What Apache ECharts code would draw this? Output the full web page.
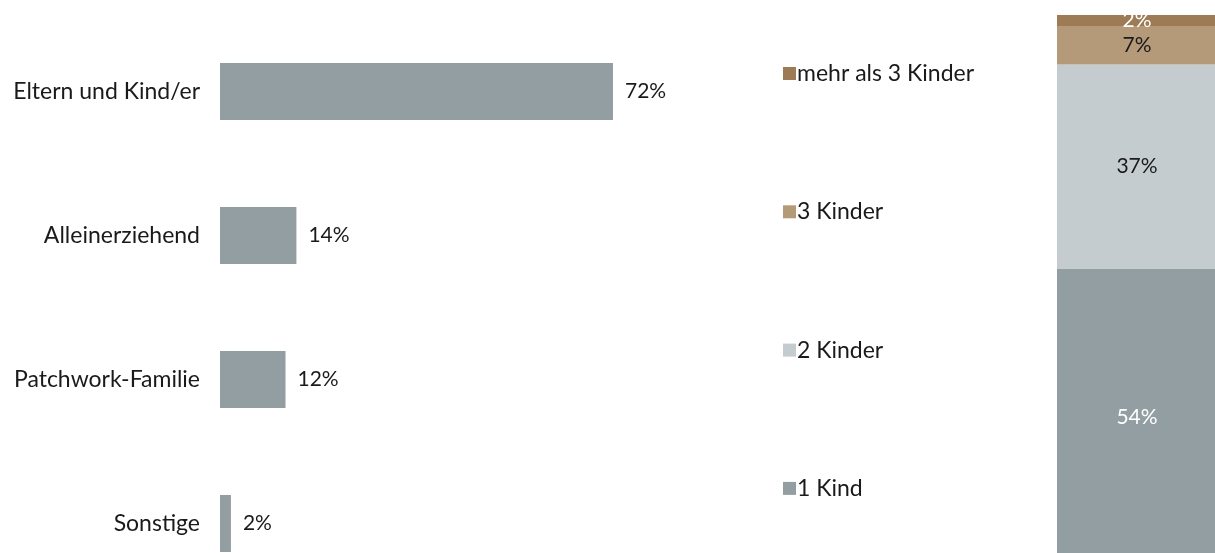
<!DOCTYPE html>
<html><head><meta charset="utf-8">
<script src="https://cdn.jsdelivr.net/npm/echarts@6/dist/echarts.min.js"></script>
<style>html,body{margin:0;padding:0;background:#fff}#c{width:1215px;height:553px}</style>
</head><body><div id="c"></div>
<script>
const familyCategories = ['Eltern und Kind/er','Alleinerziehend','Patchwork-Familie','Sonstige'];
const familyValues = [72, 14, 12, 2];
const childSeriesNames = ['1 Kind','2 Kinder','3 Kinder','mehr als 3 Kinder'];
const childValues = [54, 37, 7, 2];
const childColors = ['#939ea2','#c5ccd0','#b59a7a','#9c7b55'];
const childLabelColors = ['#ffffff','#1a1a1a','#1a1a1a','#ffffff'];

const FONT = 'Lato';
const chart = echarts.init(document.getElementById('c'));
const stackSeries = childSeriesNames.map((n,i)=>({
  name:n, type:'bar', stack:'k', xAxisIndex:1, yAxisIndex:1, barWidth:160,
  itemStyle:{color:childColors[i]},
  label:{show:true, position:'inside', formatter:'{c}%', color:childLabelColors[i], fontFamily:FONT, fontSize:21},
  data:[childValues[i]]
}));
chart.setOption({
  animation:false,
  textStyle:{fontFamily:FONT},
  grid:[
    {left:220, top:19.5, width:545.8, height:576, containLabel:false, outerBoundsMode:'none'},
    {left:1057, top:15, width:160, height:551, containLabel:false, outerBoundsMode:'none'}
  ],
  xAxis:[
    {type:'value', gridIndex:0, min:0, max:100, show:false},
    {type:'category', gridIndex:1, data:[''], show:false}
  ],
  yAxis:[
    {type:'category', gridIndex:0, data:familyCategories, inverse:true,
     axisLine:{show:false}, axisTick:{show:false}, splitLine:{show:false},
     axisLabel:{margin:20, color:'#1a1a1a', fontSize:23, fontFamily:FONT}},
    {type:'value', gridIndex:1, min:0, max:100, show:false}
  ],
  legend:{
    orient:'vertical', left:778, top:57, itemWidth:13, itemHeight:13, itemGap:115.3,
    data:['mehr als 3 Kinder','3 Kinder','2 Kinder','1 Kind'],
    textStyle:{fontSize:23, color:'#1a1a1a', fontFamily:FONT, padding:[0,0,0,-4]},
    icon:'rect'
  },
  series:[
    {type:'bar', xAxisIndex:0, yAxisIndex:0, barWidth:57, data:familyValues,
     itemStyle:{color:'#939ea2'},
     label:{show:true, position:'right', distance:12, formatter:'{c}%', color:'#1a1a1a', fontSize:21, fontFamily:FONT}}
  ].concat(stackSeries)
});
</script></body></html>
